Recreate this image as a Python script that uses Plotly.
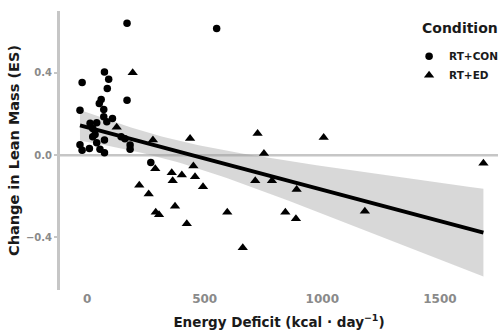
import numpy as np
import plotly.graph_objects as go

# Energy deficit (kcal/day) and lean-mass effect size per study arm
con_deficit = [170, 551, -21, 74, 92, 86, 170, 60, 52, -30, 71, 71, 108, 84, 13,
               41, 24, 34, 24, 74, 41, 145, 161, 183, 183, -30, -21, 10, 55, 74, 271]
con_es = [0.640, 0.615, 0.353, 0.404, 0.369, 0.324, 0.267, 0.270, 0.251, 0.218,
          0.222, 0.186, 0.178, 0.162, 0.155, 0.157, 0.129, 0.100, 0.089, 0.073,
          0.060, 0.089, 0.080, 0.049, 0.028, 0.050, 0.024, 0.032, 0.028, 0.012, -0.036]

ed_deficit = [194, 126, 280, 438, 725, 1006, 752, 1685, 290, 360, 403, 452, 459,
              364, 493, 222, 262, 374, 292, 306, 424, 596, 662, 715, 786, 891,
              843, 888, 1181]
ed_es = [0.400, 0.135, 0.073, 0.081, 0.105, 0.086, 0.008, -0.040, -0.066, -0.085,
         -0.096, -0.053, -0.105, -0.125, -0.154, -0.146, -0.189, -0.248, -0.278,
         -0.289, -0.333, -0.278, -0.450, -0.125, -0.125, -0.167, -0.277, -0.309, -0.272]

x_ticks = [0, 500, 1000, 1500]
y_ticks = [-0.4, 0.0, 0.4]
y_tick_labels = ["−0.4", "0.0", "0.4"]

# Linear fit over both groups with a 95% confidence band
x_all = np.array(con_deficit + ed_deficit, dtype=float)
y_all = np.array(con_es + ed_es, dtype=float)
n = len(x_all)
slope, intercept = np.polyfit(x_all, y_all, 1)
resid = y_all - (intercept + slope * x_all)
s = np.sqrt(np.sum(resid ** 2) / (n - 2))
x_mean = x_all.mean()
sxx = np.sum((x_all - x_mean) ** 2)
T_CRIT = 2.0017  # t(0.975, df = 58)

x_fit = np.linspace(x_all.min(), x_all.max(), 80)
y_fit = intercept + slope * x_fit
half = T_CRIT * s * np.sqrt(1.0 / n + (x_fit - x_mean) ** 2 / sxx)

TXT = "#1a1a1a"
GREY = "#8a8a8a"
LINE_GREY = "#c6c6c6"
FONT = "DejaVu Sans"

fig = go.Figure()

fig.add_trace(go.Scatter(
    x=np.concatenate([x_fit, x_fit[::-1]]),
    y=np.concatenate([y_fit + half, (y_fit - half)[::-1]]),
    fill="toself", fillcolor="rgba(153,153,153,0.38)",
    line=dict(width=0), mode="lines", hoverinfo="skip", showlegend=False,
))

fig.add_trace(go.Scatter(
    x=con_deficit, y=con_es, mode="markers", name="<b>RT+CON</b>",
    marker=dict(symbol="circle", size=7.5, color="black"),
))
fig.add_trace(go.Scatter(
    x=ed_deficit, y=ed_es, mode="markers", name="<b>RT+ED</b>",
    marker=dict(symbol="triangle-up", size=9, color="black"),
))

fig.add_trace(go.Scatter(
    x=x_fit, y=y_fit, mode="lines", line=dict(color="black", width=4),
    hoverinfo="skip", showlegend=False,
))

# Reference line at zero effect
fig.add_shape(type="line", xref="paper", x0=0, x1=1, yref="y", y0=0, y1=0,
              line=dict(color=LINE_GREY, width=2.5), layer="below")

fig.add_annotation(
    text="<b>Condition</b>", xref="paper", yref="paper",
    x=0.822, y=0.939, xanchor="left", yanchor="middle", showarrow=False,
    font=dict(family=FONT, size=14, color=TXT),
)

fig.update_layout(
    width=498, height=335,
    margin=dict(l=60, r=0, t=11, b=45, autoexpand=False),
    paper_bgcolor="white", plot_bgcolor="white",
    font=dict(family=FONT, color=TXT),
    showlegend=True,
    legend=dict(
        x=0.797, y=0.89, xanchor="left", yanchor="top",
        bgcolor="rgba(0,0,0,0)", font=dict(family=FONT, size=10.5, color=TXT),
        tracegroupgap=0, itemsizing="trace",
    ),
    xaxis=dict(
        range=[-115, 1747], showgrid=False, zeroline=False, showline=False,
        tickvals=x_ticks, ticktext=[f"<b>{v}</b>" for v in x_ticks], ticks="",
        tickfont=dict(family=FONT, size=12, color=GREY),
        title=dict(text="<b>Energy Deficit (kcal · day<sup>−1</sup>)</b>",
                   font=dict(family=FONT, size=13.5, color=TXT), standoff=12),
    ),
    yaxis=dict(
        range=[-0.655, 0.70], showgrid=False, zeroline=False,
        showline=True, linecolor=LINE_GREY, linewidth=3,
        tickvals=y_ticks, ticktext=[f"<b>{t}</b>" for t in y_tick_labels],
        ticks="outside", ticklen=3, tickcolor=LINE_GREY, tickwidth=1.5,
        tickfont=dict(family=FONT, size=10, color=GREY),
        title=dict(text="<b>Change in Lean Mass (ES)</b>",
                   font=dict(family=FONT, size=14.5, color=TXT), standoff=3),
    ),
)

fig.write_html("out.html")
